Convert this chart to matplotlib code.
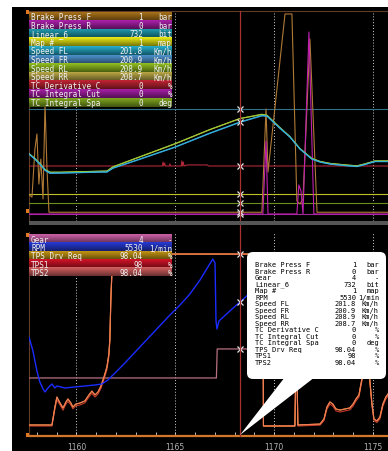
import matplotlib
matplotlib.use("Agg")
import matplotlib.pyplot as plt
import numpy as np
from matplotlib.patches import Rectangle, FancyBboxPatch, Polygon
from matplotlib.ticker import MultipleLocator

# ---------------- data ----------------
cursor_time = 1168.27
t_start, t_end = 1157.60, 1175.76
x_ticks = [1160, 1165, 1170, 1175]

speed_t = [1157.60, 1157.90, 1158.15, 1158.41, 1158.66, 1159.17, 1160.18, 1161.19, 1161.54,
           1161.85, 1163.21, 1164.98, 1166.75, 1168.27, 1169.38, 1169.64, 1170.29, 1170.80,
           1171.31, 1171.91, 1172.32, 1172.82, 1173.58, 1174.19, 1174.59, 1175.10, 1175.76]
speed_fl = [136.5, 126.4, 116.2, 104.0, 97.8, 97.8, 98.8, 99.9, 99.9, 108.0, 126.4, 150.8, 179.3,
            201.8, 215.0, 214.0, 189.5, 171.2, 146.7, 126.4, 120.3, 116.2, 113.1, 111.1, 115.1, 121.3, 121.3]
speed_fr = [136.0, 126.0, 115.5, 103.0, 97.0, 97.5, 98.5, 99.5, 99.6, 107.5, 125.6, 150.0, 178.4,
            200.9, 214.2, 213.6, 189.0, 171.0, 146.5, 126.0, 120.0, 116.0, 112.8, 110.8, 115.0, 121.0, 121.0]
speed_rl = [137.5, 127.5, 117.0, 105.0, 99.5, 99.5, 100.5, 101.5, 101.8, 110.5, 131.0, 157.5, 186.5,
            208.9, 217.5, 215.5, 190.5, 172.0, 147.5, 127.5, 121.5, 117.5, 114.5, 112.5, 116.5, 122.5, 122.5]
speed_rr = [137.0, 127.0, 116.8, 104.6, 99.2, 99.2, 100.2, 101.2, 101.5, 110.2, 130.6, 157.1, 186.1,
            208.7, 217.0, 215.2, 190.2, 171.7, 147.2, 127.2, 121.2, 117.2, 114.2, 112.2, 116.2, 122.2, 122.2]

brake_f_t = [1157.60, 1157.75, 1157.90, 1158.00, 1158.10, 1158.20, 1158.31, 1158.41, 1158.51, 1158.61,
             1169.38, 1169.59, 1169.69, 1170.55, 1170.90, 1171.15, 1171.31, 1171.46, 1171.81, 1172.17, 1175.76]
brake_f = [10.9, 9.7, 37.1, 45.7, 17.1, 31.4, 8.6, 62.9, 25.7, 1, 1, 60.0, 24.0, 114.3, 114.3,
           7.4, 5.7, 8.6, 100.0, 1, 1]
brake_r_t = [1157.60, 1169.43, 1169.59, 1169.69, 1171.15, 1171.25, 1171.36, 1171.46, 1171.76, 1172.01, 1175.76]
brake_r = [0, 0, 41.7, 0, 0, 16.6, 13.1, 0, 104.0, 0, 0]

tc_deriv_t = [1157.60, 1164.35, 1164.38, 1164.42, 1164.46, 1164.50, 1164.70, 1164.73, 1164.76,
              1165.30, 1165.33, 1165.36, 1165.40, 1165.44, 1165.60, 1166.60, 1166.70, 1175.76]
tc_deriv = [0, 0, 1.9, 0, 1.4, 0, 0, 1.0, 0, 0, 2.4, 0, 1.9, 0, 0.5, 0.5, 0, 0]

flat_t = [1157.60, 1175.76]
linear6 = [732, 732]
map_num = [1, 1]
tc_int_cut = [0, 0]
tc_int_spa = [0, 0]

rpm_t = [1157.60, 1157.80, 1158.00, 1158.15, 1158.31, 1158.41, 1158.56, 1158.76, 1158.91, 1159.01,
         1159.42, 1159.92, 1160.43, 1160.94, 1161.29, 1161.59, 1161.95, 1162.45, 1163.21, 1163.97,
         1164.73, 1165.24, 1165.74, 1166.25, 1166.65, 1166.90, 1167.01, 1167.06, 1167.11, 1167.21,
         1167.76, 1168.27, 1168.78, 1169.38]
rpm = [4630, 4271, 3757, 3474, 3294, 3217, 3320, 3423, 3320, 3371, 3320, 3346, 3371, 3397, 3423,
       3525, 3705, 3962, 4374, 4785, 5196, 5453, 5736, 6095, 6430, 6635, 6532, 5042, 4836, 5042,
       5299, 5530, 5761, 5993]

gear_t = [1157.60, 1167.08, 1167.12, 1169.38]
gear = [3, 3, 4, 4]

tps_t = [1157.60, 1158.76, 1158.91, 1159.01, 1159.17, 1159.32, 1159.47, 1159.57, 1159.72, 1159.82,
         1159.97, 1160.18, 1160.43, 1160.63, 1160.78, 1160.94, 1161.09, 1161.24, 1161.39, 1161.54,
         1161.64, 1161.69, 1161.74, 1161.80, 1161.85, 1161.95, 1169.43, 1169.46, 1171.05, 1171.10,
         1171.15, 1171.20, 1172.32, 1172.52, 1172.67, 1172.82, 1172.97, 1173.13, 1173.33, 1173.58,
         1173.83, 1173.99, 1174.14, 1174.29, 1174.39, 1174.49, 1174.64, 1174.79, 1174.95, 1175.05,
         1175.20, 1175.35, 1175.50, 1175.65, 1175.76]
tps2 = [0.6, 0.6, 10.8, 16.5, 13.1, 10.3, 13.7, 15.4, 13.1, 10.8, 12.5, 13.1, 14.3, 17.7, 19.9,
        17.7, 19.4, 22.8, 27.9, 33.6, 41.0, 49.6, 72.4, 89.5, 97.5, 98.04, 98.04, 0.0, 0.0, 35.0,
        35.0, 0.6, 1.1, 4.0, 10.8, 13.7, 12.5, 9.7, 9.1, 9.7, 10.3, 12.5, 15.4, 17.7, 23.9, 29.6,
        44.0, 32.5, 12.5, 4.0, 2.9, 5.1, 12.5, 16.5, 18.2]
tps_drv_req = [0.6, 0.6, 10.8, 16.5, 13.1, 10.3, 13.7, 15.4, 13.1, 10.8, 12.5, 13.1, 14.3, 17.7, 19.9,
               17.7, 19.4, 22.8, 27.9, 33.6, 41.0, 49.6, 72.4, 89.5, 97.5, 98.04, 98.04, 0.0, 0.0, 35.0,
               35.0, 0.6, 1.1, 4.0, 10.8, 13.7, 12.5, 9.7, 9.1, 9.7, 10.3, 12.5, 15.4, 17.7, 23.9, 29.6,
               44.0, 32.5, 12.5, 4.0, 2.9, 5.1, 12.5, 16.5, 18.2]
tps1 = [0.0, 0.0, 9.5, 15.0, 12.0, 9.0, 12.5, 14.0, 12.0, 9.8, 11.5, 12.0, 13.2, 16.5, 18.6, 16.5,
        18.2, 21.5, 26.5, 32.0, 39.5, 48.0, 71.0, 88.5, 96.8, 98.0, 98.0, 0.0, 0.0, 34.0, 34.0, 0.0,
        0.5, 3.0, 9.6, 12.5, 11.3, 8.6, 8.0, 8.6, 9.2, 11.3, 14.2, 16.5, 22.7, 28.4, 43.0, 31.3, 11.3,
        3.0, 2.0, 4.0, 11.3, 15.3, 17.0]

top_names = ["Brake Press F", "Brake Press R", "Linear_6", "Map #", "Speed FL", "Speed FR",
             "Speed RL", "Speed RR", "TC Derivative C", "TC Integral Cut", "TC Integral Spa"]
top_values = [1, 0, 732, 1, 201.8, 200.9, 208.9, 208.7, 0, 0, 0]
top_units = ["bar", "bar", "bit", "map", "Km/h", "Km/h", "Km/h", "Km/h", "%", "%", "deg"]

bot_names = ["Gear", "RPM", "TPS Drv Req", "TPS1", "TPS2"]
bot_values = [4, 5530, 98.04, 98, 98.04]
bot_units = ["-", "1/min", "%", "%", "%"]

# ---------------- styles ----------------
top_row_colors = ["#8c5e14", "#8e1a8e", "#1a7f8f", "#c4c412", "#1f8fa8", "#3f78a8",
                  "#7a9f1a", "#9a8a3a", "#a01e2a", "#8a1a8a", "#6a8a1a"]
bot_row_colors = ["#a8508a", "#2030b0", "#a07a10", "#b01020", "#b05050"]

W, H = 388, 452
fig = plt.figure(figsize=(W / 100, H / 100), dpi=100)
fig.patch.set_facecolor("white")


def fr(x0, y0, x1, y1):
    return [x0 / W, 1 - y1 / H, (x1 - x0) / W, (y1 - y0) / H]


fig.add_artist(Rectangle((12 / W, 0), 376 / W, 1 - 8 / H, transform=fig.transFigure,
                         facecolor="black", edgecolor="none", zorder=-5))

ax1 = fig.add_axes(fr(29, 12, 388, 222))
ax2 = fig.add_axes(fr(29, 233, 388, 437))
frame_col = "#5e3c28"
for ax in (ax1, ax2):
    ax.set_facecolor("none")
    ax.set_xlim(t_start, t_end)
    ax.set_yticks([])
    ax.set_xticks(x_ticks)
    ax.grid(axis="x", which="major", color="#d0d0d0", linestyle=(0, (1, 2)), linewidth=0.7)
    for s in ax.spines.values():
        s.set_visible(False)
    ax.spines["left"].set_visible(True)
    ax.spines["left"].set_color(frame_col)
    ax.spines["left"].set_linewidth(0.8)
ax1.spines["top"].set_visible(True)
ax1.spines["top"].set_color(frame_col)
ax1.tick_params(axis="x", length=0, labelbottom=False)
ax2.spines["bottom"].set_visible(True)
ax2.spines["bottom"].set_color("#d2782a")
ax2.spines["bottom"].set_linewidth(1.6)
ax2.xaxis.set_minor_locator(MultipleLocator(1))
ax2.tick_params(axis="x", which="both", direction="in", length=3, width=0.6, color="#d8d8d8",
                labelsize=5.5, labelcolor="#b4b4b4", pad=4)


def chan(ax, lo, hi):
    a = ax.twinx()
    a.set_ylim(lo, hi)
    a.set_axis_off()
    return a


def cross(a, v):
    a.plot([cursor_time], [v], marker="x", ms=5, mew=0.9, color="#e6e6e6", zorder=5)


# top panel channels
a_lin = chan(ax1, 0, 1372.5)
a_lin.plot(flat_t, linear6, color="#2d7088", lw=0.8)
cross(a_lin, top_values[2])

a_tcd = chan(ax1, -26.19, 73.81)
a_tcd.plot(tc_deriv_t, tc_deriv, color="#b02838", lw=0.8)
cross(a_tcd, top_values[8])

a_map = chan(ax1, 0, 7.78)
a_map.plot(flat_t, map_num, color="#c0c02a", lw=0.8)
cross(a_map, top_values[3])

a_spa = chan(ax1, -8.57, 91.43)
a_spa.plot(flat_t, tc_int_spa, color="#6b8e23", lw=0.8)
cross(a_spa, top_values[10])

a_cut = chan(ax1, -3.33, 96.67)
a_cut.plot(flat_t, tc_int_cut, color="#9a2a9a", lw=0.8)
cross(a_cut, top_values[9])

a_br = chan(ax1, -4, 116)
a_br.plot(brake_f_t, brake_f, color="#b07a36", lw=0.8)
a_br.plot(brake_r_t, brake_r, color="#c020b0", lw=0.8)
cross(a_br, top_values[0])

a_sp = chan(ax1, 0, 428)
a_sp.plot(speed_t, speed_rr, color="#c8b040", lw=0.8)
a_sp.plot(speed_t, speed_rl, color="#9acd32", lw=0.8)
a_sp.plot(speed_t, speed_fr, color="#2f8fe0", lw=0.8)
a_sp.plot(speed_t, speed_fl, color="#35b5d5", lw=0.8)
cross(a_sp, top_values[4])

# bottom panel channels
a_gear = chan(ax2, 1, 8.03)
a_gear.plot(gear_t, gear, color="#b87080", lw=0.9)
cross(a_gear, bot_values[0])

a_tps = chan(ax2, -5.7, 110.6)
a_tps.plot(tps_t, tps1, color="#c83a2a", lw=0.8)
a_tps.plot(tps_t, tps_drv_req, color="#e0902a", lw=0.8)
a_tps.plot(tps_t, tps2, color="#f07c58", lw=0.8)
cross(a_tps, bot_values[2])

a_rpm = chan(ax2, 2086, 7329)
a_rpm.plot(rpm_t, rpm, color="#1a2cff", lw=1.0)
cross(a_rpm, bot_values[1])

for ax in (ax1, ax2):
    ax.set_xlim(t_start, t_end)

# ---------------- overlay (pixel coordinates) ----------------
ov = fig.add_axes([0, 0, 1, 1], zorder=20)
ov.set_xlim(0, W)
ov.set_ylim(H, 0)
ov.set_axis_off()
ov.patch.set_visible(False)

# cursor line
fig.canvas.draw()
cx = ax1.transData.transform((cursor_time, 0))[0]
ov.plot([cx, cx], [12, 437], color="#a83030", lw=0.9, zorder=1)

# separator bar and markers
ov.add_patch(Rectangle((29, 222), 359, 4, facecolor="#555555", edgecolor="none", zorder=2))
for my in (11, 210, 234, 434):
    ov.add_patch(Rectangle((26, my), 3, 4, facecolor="#e07a20", edgecolor="none", zorder=3))

mono = "DejaVu Sans Mono"
shade = np.linspace(1.2, 0.62, 12)


def legend_rows(names, values, units, colors, y0, h):
    for i, (n, v, u, c) in enumerate(zip(names, values, units, colors)):
        top = y0 + i * h
        rgb = np.array(matplotlib.colors.to_rgb(c))
        img = np.clip(shade[:, None, None] * rgb[None, None, :], 0, 1)
        ov.imshow(img, extent=(29, 172, top + h, top), aspect="auto", zorder=4,
                  interpolation="bilinear")
        yc = top + h / 2 + 0.3
        ov.text(31, yc, n, fontsize=5.5, family=mono, color="#f2f2f2", va="center", ha="left", zorder=5)
        ov.text(143, yc, format(v, "g"), fontsize=5.5, family=mono, color="#f2f2f2", va="center",
                ha="right", zorder=5)
        ov.text(172, yc, u, fontsize=5.5, family=mono, color="#f2f2f2", va="center", ha="right", zorder=5)


legend_rows(top_names, top_values, top_units, top_row_colors, 13, 8.6)
legend_rows(bot_names, bot_values, bot_units, bot_row_colors, 236, 8.2)

# tooltip
ov.add_patch(FancyBboxPatch((247, 253), 139, 127, boxstyle="round,pad=0,rounding_size=6",
                            facecolor="white", edgecolor="none", zorder=8))
ov.add_patch(Polygon([(240, 436), (285, 378), (315, 378)], closed=True, facecolor="white",
                     edgecolor="none", zorder=8))
all_vals = dict(zip(top_names + bot_names, top_values + bot_values))
all_units = dict(zip(top_names + bot_names, top_units + bot_units))
for i, n in enumerate(sorted(all_vals)):
    yy = 265 + i * 6.53
    ov.text(255, yy, n, fontsize=5, family=mono, color="black", va="center", ha="left", zorder=9)
    ov.text(356, yy, format(all_vals[n], "g"), fontsize=5, family=mono, color="black",
            va="center", ha="right", zorder=9)
    ov.text(379, yy, all_units[n], fontsize=5, family=mono, color="black", va="center",
            ha="right", zorder=9)

ov.set_xlim(0, W)
ov.set_ylim(H, 0)

fig.savefig("out.png", dpi=100, facecolor="white")
